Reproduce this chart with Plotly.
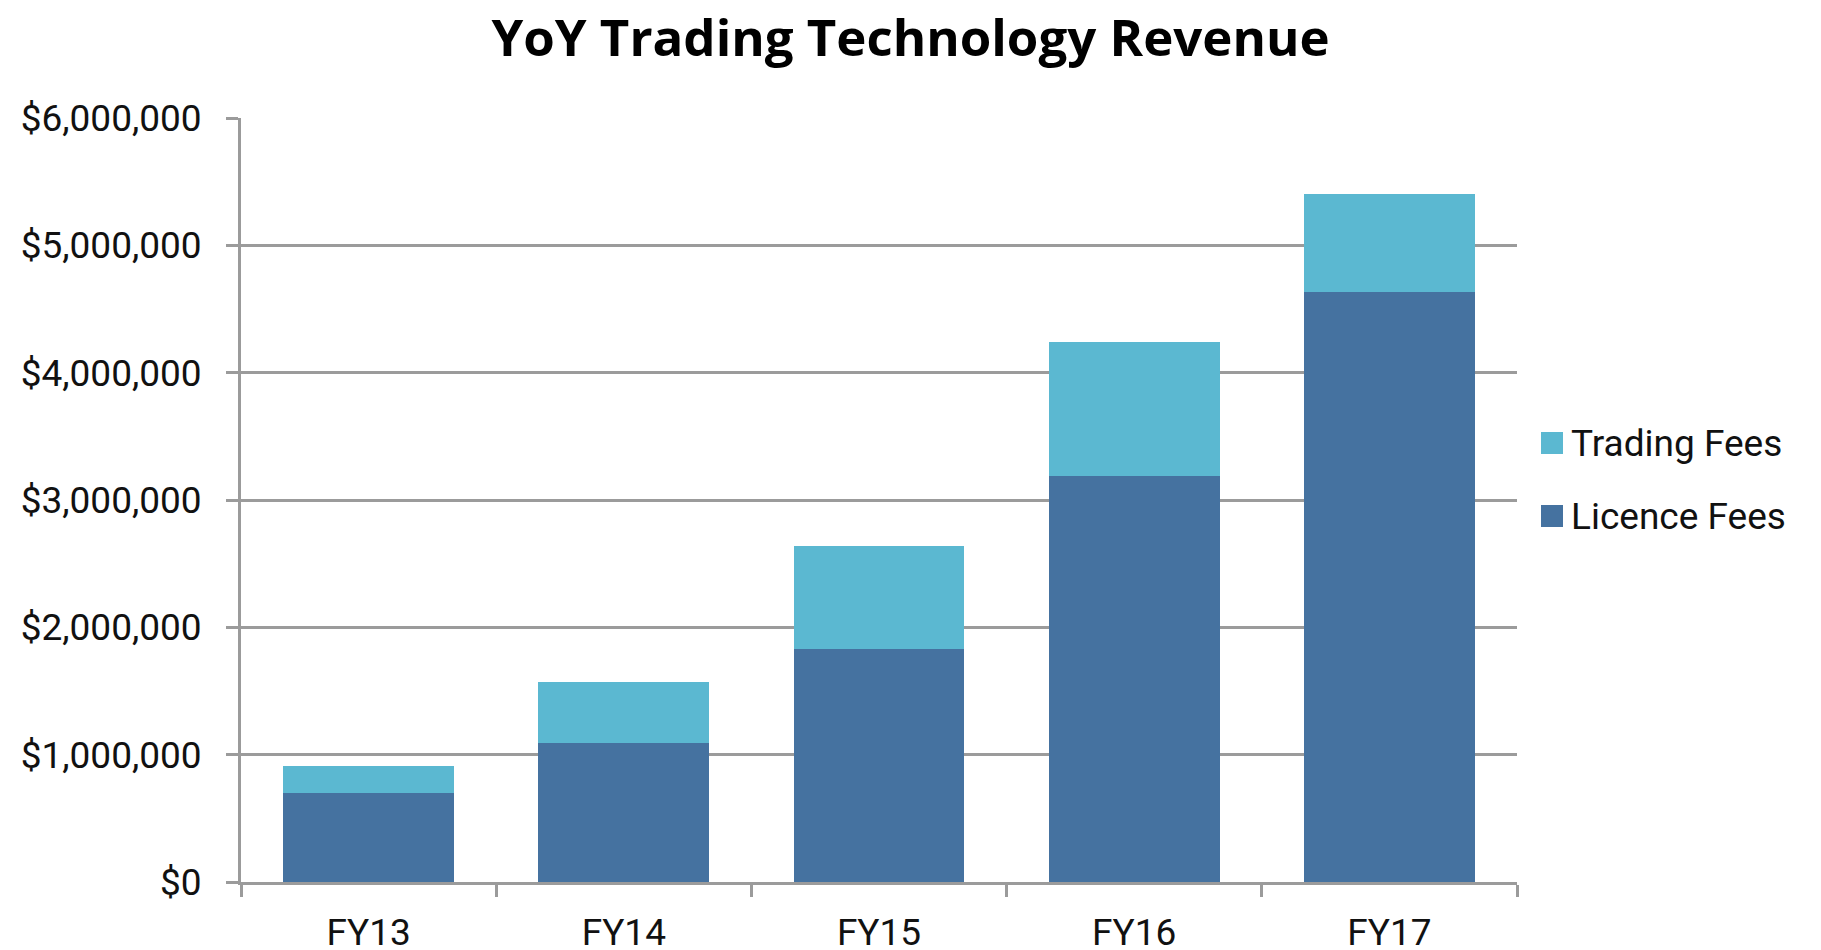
import plotly.graph_objects as go

years = ["FY13", "FY14", "FY15", "FY16", "FY17"]
licence_fees = [700000, 1090000, 1830000, 3190000, 4630000]
trading_fees = [210000, 480000, 810000, 1050000, 770000]
series_names = ["Trading Fees", "Licence Fees"]
tick_vals = [0, 1000000, 2000000, 3000000, 4000000, 5000000, 6000000]
tick_text = ["$0", "$1,000,000", "$2,000,000", "$3,000,000", "$4,000,000", "$5,000,000", "$6,000,000"]

# the page body has an 8px margin, so work in figure coords = screen - 8
OFF = 8
W, H = 1821 - OFF, 950
ML = 241 - OFF
MR = W - (1517 - OFF)
MT = 118 - OFF
MB = H - (882 - OFF)
dark_blue = "#4572A0"
light_blue = "#5BB8D1"
grid = "#9B9B9B"
font_family = "Roboto, 'Open Sans', sans-serif"

fig = go.Figure()
fig.add_trace(go.Bar(x=years, y=licence_fees, name=series_names[1], marker=dict(color=dark_blue, line=dict(width=0))))
fig.add_trace(go.Bar(x=years, y=trading_fees, name=series_names[0], marker=dict(color=light_blue, line=dict(width=0))))

# hand-made legend (plotly's legend squares are too small)
pw, ph = W - ML - MR, H - MT - MB
def px_x(x):
    return (x - OFF - ML) / pw
def px_y(y):
    return 1 - (y - OFF - MT) / ph

legend_rows = [(series_names[0], light_blue, 443), (series_names[1], dark_blue, 516)]
for name, col, yc in legend_rows:
    fig.add_shape(type="rect", xref="paper", yref="paper",
                  x0=px_x(1541), x1=px_x(1563), y0=px_y(yc - 11), y1=px_y(yc + 11),
                  fillcolor=col, line=dict(width=0))
    fig.add_annotation(text=name, xref="paper", yref="paper", x=px_x(1569), y=px_y(yc),
                       xanchor="left", yanchor="middle", showarrow=False,
                       font=dict(family=font_family, size=37, color="#111111"))

fig.update_layout(
    width=W, height=H,
    barmode="stack", bargap=0.33,
    showlegend=False,
    title=dict(text="<b>YoY Trading Technology Revenue</b>", x=(1821 / 2 - OFF) / W, xanchor="center",
               y=1 - 30 / H, yanchor="middle",
               font=dict(family="'Open Sans', sans-serif", size=51, color="#000000")),
    plot_bgcolor="white", paper_bgcolor="white",
    margin=dict(l=ML, r=MR, t=MT, b=MB),
    font=dict(family=font_family, size=36, color="#111111"),
    xaxis=dict(showline=True, linecolor=grid, linewidth=3, ticks="outside", tickson="boundaries",
               ticklen=12, tickwidth=3, tickcolor=grid, showgrid=False, ticklabelstandoff=16,
               tickfont=dict(size=37), automargin=False),
    yaxis=dict(range=[0, 6000000], tickvals=tick_vals, ticktext=tick_text, showline=True,
               linecolor=grid, linewidth=3, ticks="outside", ticklen=12, tickwidth=3, tickcolor=grid,
               showgrid=True, gridcolor=grid, gridwidth=3, zeroline=False, ticklabelstandoff=17,
               tickfont=dict(size=37), automargin=False),
)

fig.write_html("out.html")
